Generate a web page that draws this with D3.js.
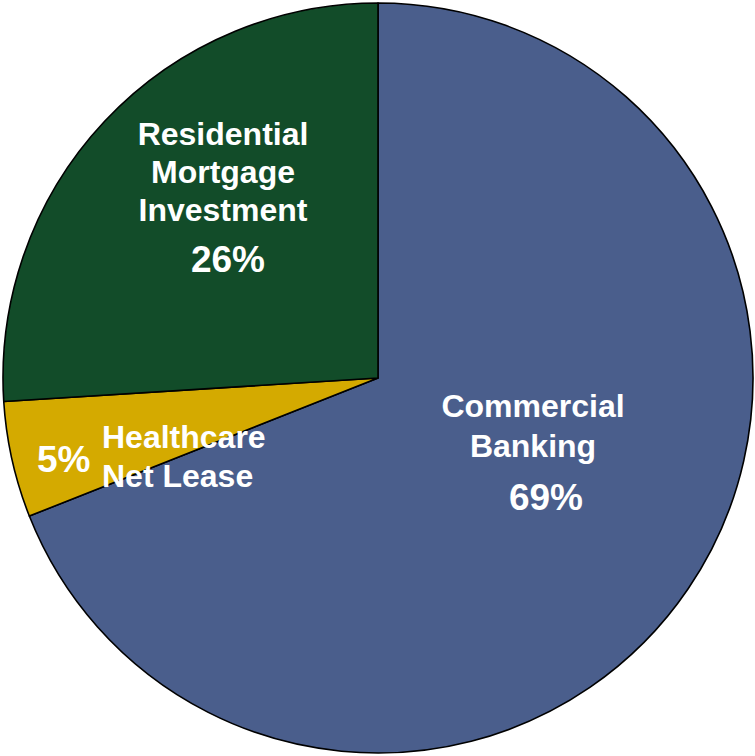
<!DOCTYPE html>
<html>
<head>
<meta charset="utf-8">
<script src="https://cdn.jsdelivr.net/npm/d3@7"></script>
<style>
  body { margin: 0; background: #fff; }
  .lbl { font-family: "Liberation Sans", Arial, sans-serif; font-weight: bold; fill: #fff; }
</style>
</head>
<body>
<div id="chart"></div>
<script>
// segment data, clockwise from 12 o'clock
let categories = ["Commercial Banking", "Healthcare Net Lease", "Residential Mortgage Investment"];
let values = [69, 5, 26];
let labelLines = [["Commercial", "Banking"], ["Healthcare", "Net Lease"], ["Residential", "Mortgage", "Investment"]];
let colors = ["#4a5e8c", "#d4aa00", "#124c29"];

let width = 755;
let height = 756;
let cx = 378;
let cy = 378;
let radius = 375;

let svg = d3.select("#chart")
  .append("svg")
  .attr("width", width)
  .attr("height", height);

let g = svg.append("g").attr("transform", "translate(" + cx + "," + cy + ")");

let pie = d3.pie().sort(null).value(d => d);
let arc = d3.arc().innerRadius(0).outerRadius(radius);
let arcs = pie(values);

g.selectAll("path.slice")
  .data(arcs)
  .enter()
  .append("path")
  .attr("class", "slice")
  .attr("d", arc)
  .attr("fill", (d, i) => colors[i])
  .attr("stroke", "#000")
  .attr("stroke-width", 1.6)
  .attr("stroke-linejoin", "round");

// label placement (relative to pie centre): name block + percent
let labelLayout = [
  { x: 155, y: 39, anchor: "middle", lh: 40, px: 168, py: 132 },
  { x: -276, y: 70, anchor: "start", lh: 39, px: -341, py: 94 },
  { x: -155, y: -233, anchor: "middle", lh: 38, px: -150, py: -106 }
];

arcs.forEach(function(a, i) {
  let L = labelLayout[i];
  let t = g.append("text")
    .attr("class", "lbl")
    .attr("font-size", 32)
    .attr("text-anchor", L.anchor);
  labelLines[i].forEach(function(line, j) {
    t.append("tspan").attr("x", L.x).attr("y", L.y + j * L.lh).text(line);
  });
  g.append("text")
    .attr("class", "lbl")
    .attr("font-size", 37)
    .attr("text-anchor", i === 1 ? "start" : "middle")
    .attr("x", L.px)
    .attr("y", L.py)
    .text(values[i] + "%");
});
</script>
</body>
</html>
